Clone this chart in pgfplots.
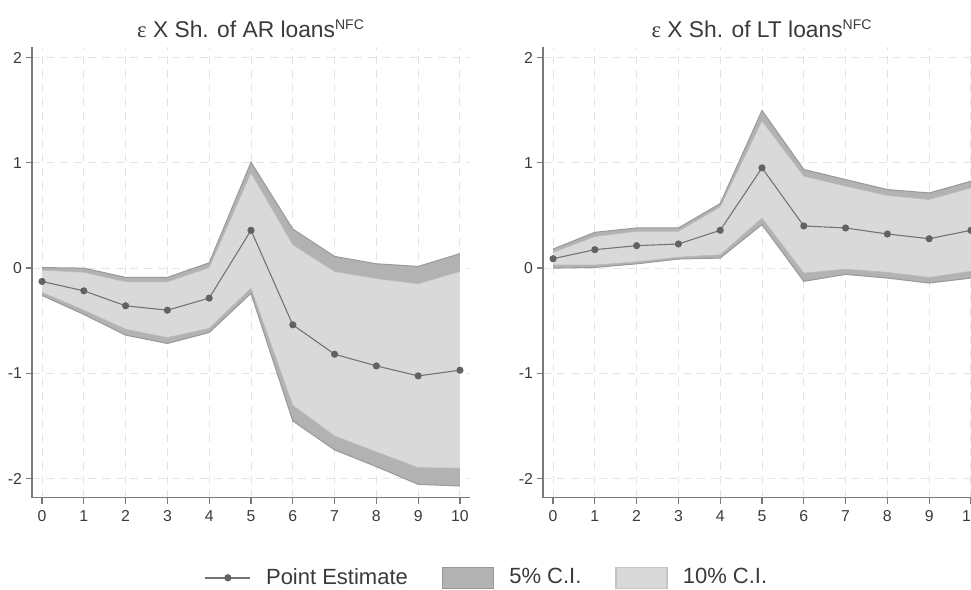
\documentclass[border=0pt]{standalone}
\usepackage{fontspec}
\setmainfont{Liberation Sans}
\newfontfamily\epsfont{Liberation Serif}
\usepackage{pgfplots}
\usepackage{pgfplotstable}
\pgfplotsset{compat=1.18}
\usepgfplotslibrary{fillbetween}

\definecolor{dband}{HTML}{B2B2B2}
\definecolor{dedge}{HTML}{999999}
\definecolor{lband}{HTML}{D9D9D9}
\definecolor{ledge}{HTML}{C4C4C4}
\definecolor{lc}{HTML}{747474}
\definecolor{mk}{HTML}{626262}
\definecolor{gridc}{HTML}{E4E4E4}
\definecolor{axc}{HTML}{7A7A7A}
\definecolor{txt}{HTML}{3A3A3A}

\pgfplotstableread{
x pe lo90 hi90 lo95 hi95
0 -0.127 -0.23 -0.02 -0.26 0.005
1 -0.216 -0.40 -0.04 -0.44 0.000
2 -0.358 -0.58 -0.13 -0.637 -0.088
3 -0.400 -0.66 -0.13 -0.716 -0.088
4 -0.285 -0.571 0.004 -0.612 0.050
5 0.359 -0.19 0.905 -0.24 1.006
6 -0.539 -1.303 0.222 -1.452 0.371
7 -0.818 -1.594 -0.032 -1.727 0.111
8 -0.929 -1.746 -0.100 -1.886 0.041
9 -1.024 -1.895 -0.149 -2.054 0.016
10 -0.970 -1.900 -0.032 -2.070 0.137
}\tabAR

\pgfplotstableread{
x pe lo90 hi90 lo95 hi95
0 0.089 0.030 0.149 0.000 0.181
1 0.175 0.030 0.300 0.006 0.340
2 0.213 0.060 0.349 0.040 0.381
3 0.229 0.105 0.349 0.086 0.381
4 0.359 0.127 0.581 0.095 0.613
5 0.952 0.476 1.397 0.413 1.498
6 0.400 -0.047 0.873 -0.126 0.937
7 0.381 -0.010 0.778 -0.060 0.841
8 0.324 -0.040 0.689 -0.095 0.746
9 0.279 -0.088 0.651 -0.142 0.714
10 0.359 -0.030 0.762 -0.095 0.825
}\tabLT

\pgfplotsset{
  irf/.style={
    scale only axis,
    width=219pt, height=225.3pt,
    anchor=north west,
    xmin=-0.24, xmax=10.24,
    ymin=-2.18, ymax=2.1,
    axis x line*=bottom, axis y line*=left,
    axis line style={axc, line width=0.75pt},
    xtick={0,1,...,10},
    ytick={-2,-1,0,1,2},
    yticklabels={-2,-1,0,1,2},
    tick align=outside,
    major tick length=3pt,
    tick style={axc, line width=0.6pt},
    grid=major,
    major grid style={gridc, dash pattern=on 4pt off 3pt, line width=0.5pt},
    tick label style={font=\fontsize{7.9}{9}\selectfont, text=txt},
    yticklabel style={xshift=1.5pt},
    /pgf/number format/assume math mode=true,
    title style={at={(0.5,1)}, anchor=base, yshift=-1pt, font=\fontsize{11.4}{13}\selectfont, text=txt},
  },
}

\newcommand{\bands}[1]{%
  \addplot[draw=none, name path=u95, forget plot] table[x=x, y=hi95] {#1};
  \addplot[draw=none, name path=l95, forget plot] table[x=x, y=lo95] {#1};
  \addplot[draw=none, name path=u90, forget plot] table[x=x, y=hi90] {#1};
  \addplot[draw=none, name path=l90, forget plot] table[x=x, y=lo90] {#1};
  \addplot[fill=dband, draw=none, forget plot] fill between[of=u95 and l95];
  \addplot[fill=lband, draw=none, forget plot] fill between[of=u90 and l90];
  \addplot[dedge, line width=0.5pt, forget plot] table[x=x, y=hi95] {#1};
  \addplot[dedge, line width=0.5pt, forget plot] table[x=x, y=lo95] {#1};
  \addplot[ledge!80!dedge, line width=0.3pt, forget plot] table[x=x, y=hi90] {#1};
  \addplot[ledge!80!dedge, line width=0.3pt, forget plot] table[x=x, y=lo90] {#1};
  \addplot[lc, line width=0.55pt, mark=*, mark size=1.5pt, mark options={fill=mk, draw=mk}, forget plot] table[x=x, y=pe] {#1};
}

\begin{document}
\begin{tikzpicture}
\begin{axis}[irf, at={(16pt,-23.5pt)},
  title={{\epsfont ε} X Sh. of AR loans\textsuperscript{\fontsize{7}{8}\selectfont NFC}},
  legend style={at={(1.041,-0.178)}, anchor=center, draw=none, fill=none,
    font=\fontsize{11}{13}\selectfont, text=txt, legend columns=3,
    /tikz/every even column/.append style={column sep=15pt},
    /tikz/every odd column/.append style={column sep=5.5pt}},
]
\bands{\tabAR}
\addlegendimage{legend image code/.code={\draw[lc, line width=0.7pt] (0pt,0pt) -- (22.5pt,0pt); \fill[mk] (11.25pt,0pt) circle (1.6pt);}}
\addlegendentry{Point Estimate}
\addlegendimage{legend image code/.code={\draw[fill=dband, draw=dedge, line width=0.7pt] (0pt,-5.25pt) rectangle (25.5pt,5.25pt);}}
\addlegendentry{5\% C.I.}
\addlegendimage{legend image code/.code={\draw[fill=lband, draw=ledge, line width=0.7pt] (0pt,-5.25pt) rectangle (25.5pt,5.25pt);}}
\addlegendentry{10\% C.I.}
\end{axis}

\begin{axis}[irf, at={(271.5pt,-23.5pt)},
  title={{\epsfont ε} X Sh. of LT loans\textsuperscript{\fontsize{7}{8}\selectfont NFC}},
]
\bands{\tabLT}
\end{axis}
\pgfresetboundingbox
\useasboundingbox (0,0) rectangle (485.5pt,-295pt);
\end{tikzpicture}
\end{document}
